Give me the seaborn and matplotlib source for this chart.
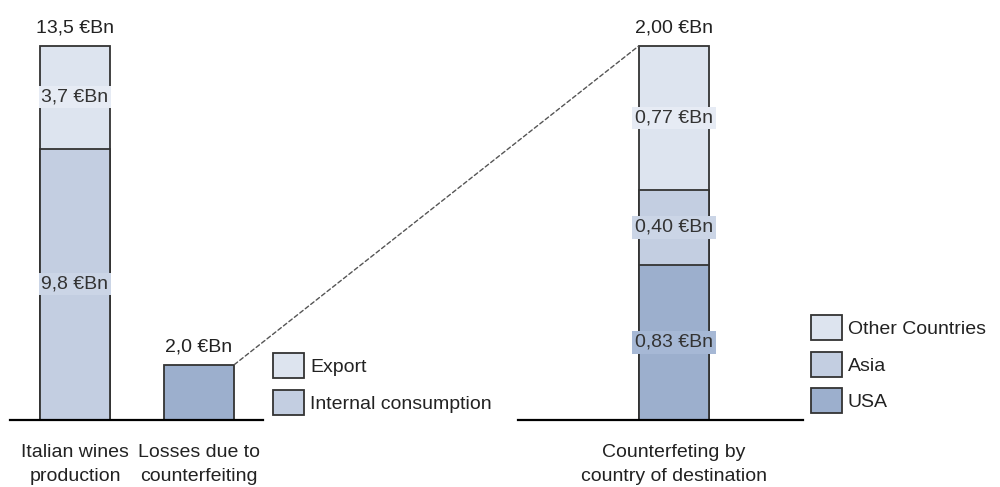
import matplotlib
matplotlib.use("Agg")
import matplotlib.pyplot as plt
from matplotlib.patches import Patch, ConnectionPatch
import seaborn as sns
import pandas as pd

# ---- data ----
left_categories = ["Italian wines\nproduction", "Losses due to\ncounterfeiting"]
internal_consumption = [9.8, 0.0]
export = [3.7, 0.0]
losses = [0.0, 2.0]

right_categories = ["Counterfeting by\ncountry of destination"]
usa = [0.83]
asia = [0.40]
other_countries = [0.77]

left_legend = ["Export", "Internal consumption"]
right_legend = ["Other Countries", "Asia", "USA"]

# ---- style ----
sns.set_theme(style="white")
plt.rcParams["font.family"] = ["Liberation Sans", "DejaVu Sans"]
FS = 14
C_LIGHT = "#dde4ef"
C_MID = "#c3cee1"
C_DARK = "#9cafcd"
BOX_LIGHT = "#e6ebf4"
BOX_MID = "#cbd5e6"
BOX_DARK = "#a6b8d5"
EDGE = "#333333"
TXT = "#222222"
W = 0.57

fig = plt.figure(figsize=(10, 4.87), dpi=100)
H = 487.0
ax_l = fig.add_axes([0.010, (H - 420) / H, 0.253, 410 / H])
ax_r = fig.add_axes([0.518, (H - 420) / H, 0.285, 410 / H])


def fmt(v, d):
    return f"{v:.{d}f}".replace(".", ",") + " €Bn"


def layer(ax, cats, order, vals, color):
    df = pd.DataFrame({"cat": cats, "value": vals})
    sns.barplot(data=df, x="cat", y="value", order=order, color=color,
                width=W, saturation=1, edgecolor=EDGE, linewidth=1.3,
                errorbar=None, ax=ax)


# left panel: stacked by cumulative layers (top first)
prod_total = [i + e for i, e in zip(internal_consumption, export)]
layer(ax_l, [left_categories[0]], left_categories, [prod_total[0]], C_LIGHT)
layer(ax_l, [left_categories[0]], left_categories, [internal_consumption[0]], C_MID)
layer(ax_l, [left_categories[1]], left_categories, [losses[1]], C_DARK)

# right panel
r_total = [u + a + o for u, a, o in zip(usa, asia, other_countries)]
r_mid = [u + a for u, a in zip(usa, asia)]
layer(ax_r, right_categories, right_categories, r_total, C_LIGHT)
layer(ax_r, right_categories, right_categories, r_mid, C_MID)
layer(ax_r, right_categories, right_categories, usa, C_DARK)

scale_top = 410 / 374
ax_l.set_ylim(0, prod_total[0] * scale_top)
ax_r.set_ylim(0, r_total[0] * scale_top)
ax_l.set_xlim(-0.524, 1.516)
ax_r.set_xlim(-1.258, 1.04)

for ax in (ax_l, ax_r):
    ax.set_xlabel("")
    ax.set_ylabel("")
    ax.set_yticks([])
    for s in ("top", "right", "left"):
        ax.spines[s].set_visible(False)
    ax.spines["bottom"].set_color("black")
    ax.spines["bottom"].set_linewidth(1.6)
    ax.tick_params(axis="x", length=0, pad=17, labelsize=FS, labelcolor=TXT)
    for lab in ax.get_xticklabels():
        lab.set_linespacing(1.6)
    ax.patch.set_alpha(0)


def top_label(ax, x, y, text):
    ax.annotate(text, (x, y), xytext=(0, 13), textcoords="offset points",
                ha="center", va="center", fontsize=FS, color=TXT)


def inner_label(ax, x, y, text, fc):
    ax.text(x, y, text, ha="center", va="center", fontsize=FS, color="#333333",
            bbox=dict(boxstyle="square,pad=0.14", fc=fc, ec="none"), zorder=5)


top_label(ax_l, 0, prod_total[0], fmt(prod_total[0], 1))
top_label(ax_l, 1, losses[1], fmt(losses[1], 1))
inner_label(ax_l, 0, internal_consumption[0] + export[0] / 2, fmt(export[0], 1), BOX_LIGHT)
inner_label(ax_l, 0, internal_consumption[0] / 2, fmt(internal_consumption[0], 1), BOX_MID)

top_label(ax_r, 0, r_total[0], fmt(r_total[0], 2))
inner_label(ax_r, 0, r_mid[0] + other_countries[0] / 2, fmt(other_countries[0], 2), BOX_LIGHT)
inner_label(ax_r, 0, usa[0] + asia[0] / 2, fmt(asia[0], 2), BOX_MID)
inner_label(ax_r, 0, usa[0] / 2, fmt(usa[0], 2), BOX_DARK)

# dashed connector from losses bar to breakdown bar
con = ConnectionPatch(xyA=(1 + W / 2, losses[1]), coordsA=ax_l.transData,
                      xyB=(-W / 2, r_total[0]), coordsB=ax_r.transData,
                      linestyle=(0, (3, 2)), color="#555555", linewidth=1.0)
fig.add_artist(con)

# legends
def make_legend(labels, colors, anchor):
    handles = [Patch(facecolor=c, edgecolor=EDGE, linewidth=1.3) for c in colors]
    fig.legend(handles, labels, loc="upper left", bbox_to_anchor=anchor,
               frameon=False, fontsize=FS, handlelength=1.6, handleheight=1.6,
               handletextpad=0.3, labelspacing=0.6, borderpad=0,
               borderaxespad=0, labelcolor=TXT)

make_legend(left_legend, [C_LIGHT, C_MID], (0.273, 1 - 353 / H))
make_legend(right_legend, [C_LIGHT, C_MID, C_DARK], (0.811, 1 - 315 / H))

fig.savefig("out.png", dpi=100)
